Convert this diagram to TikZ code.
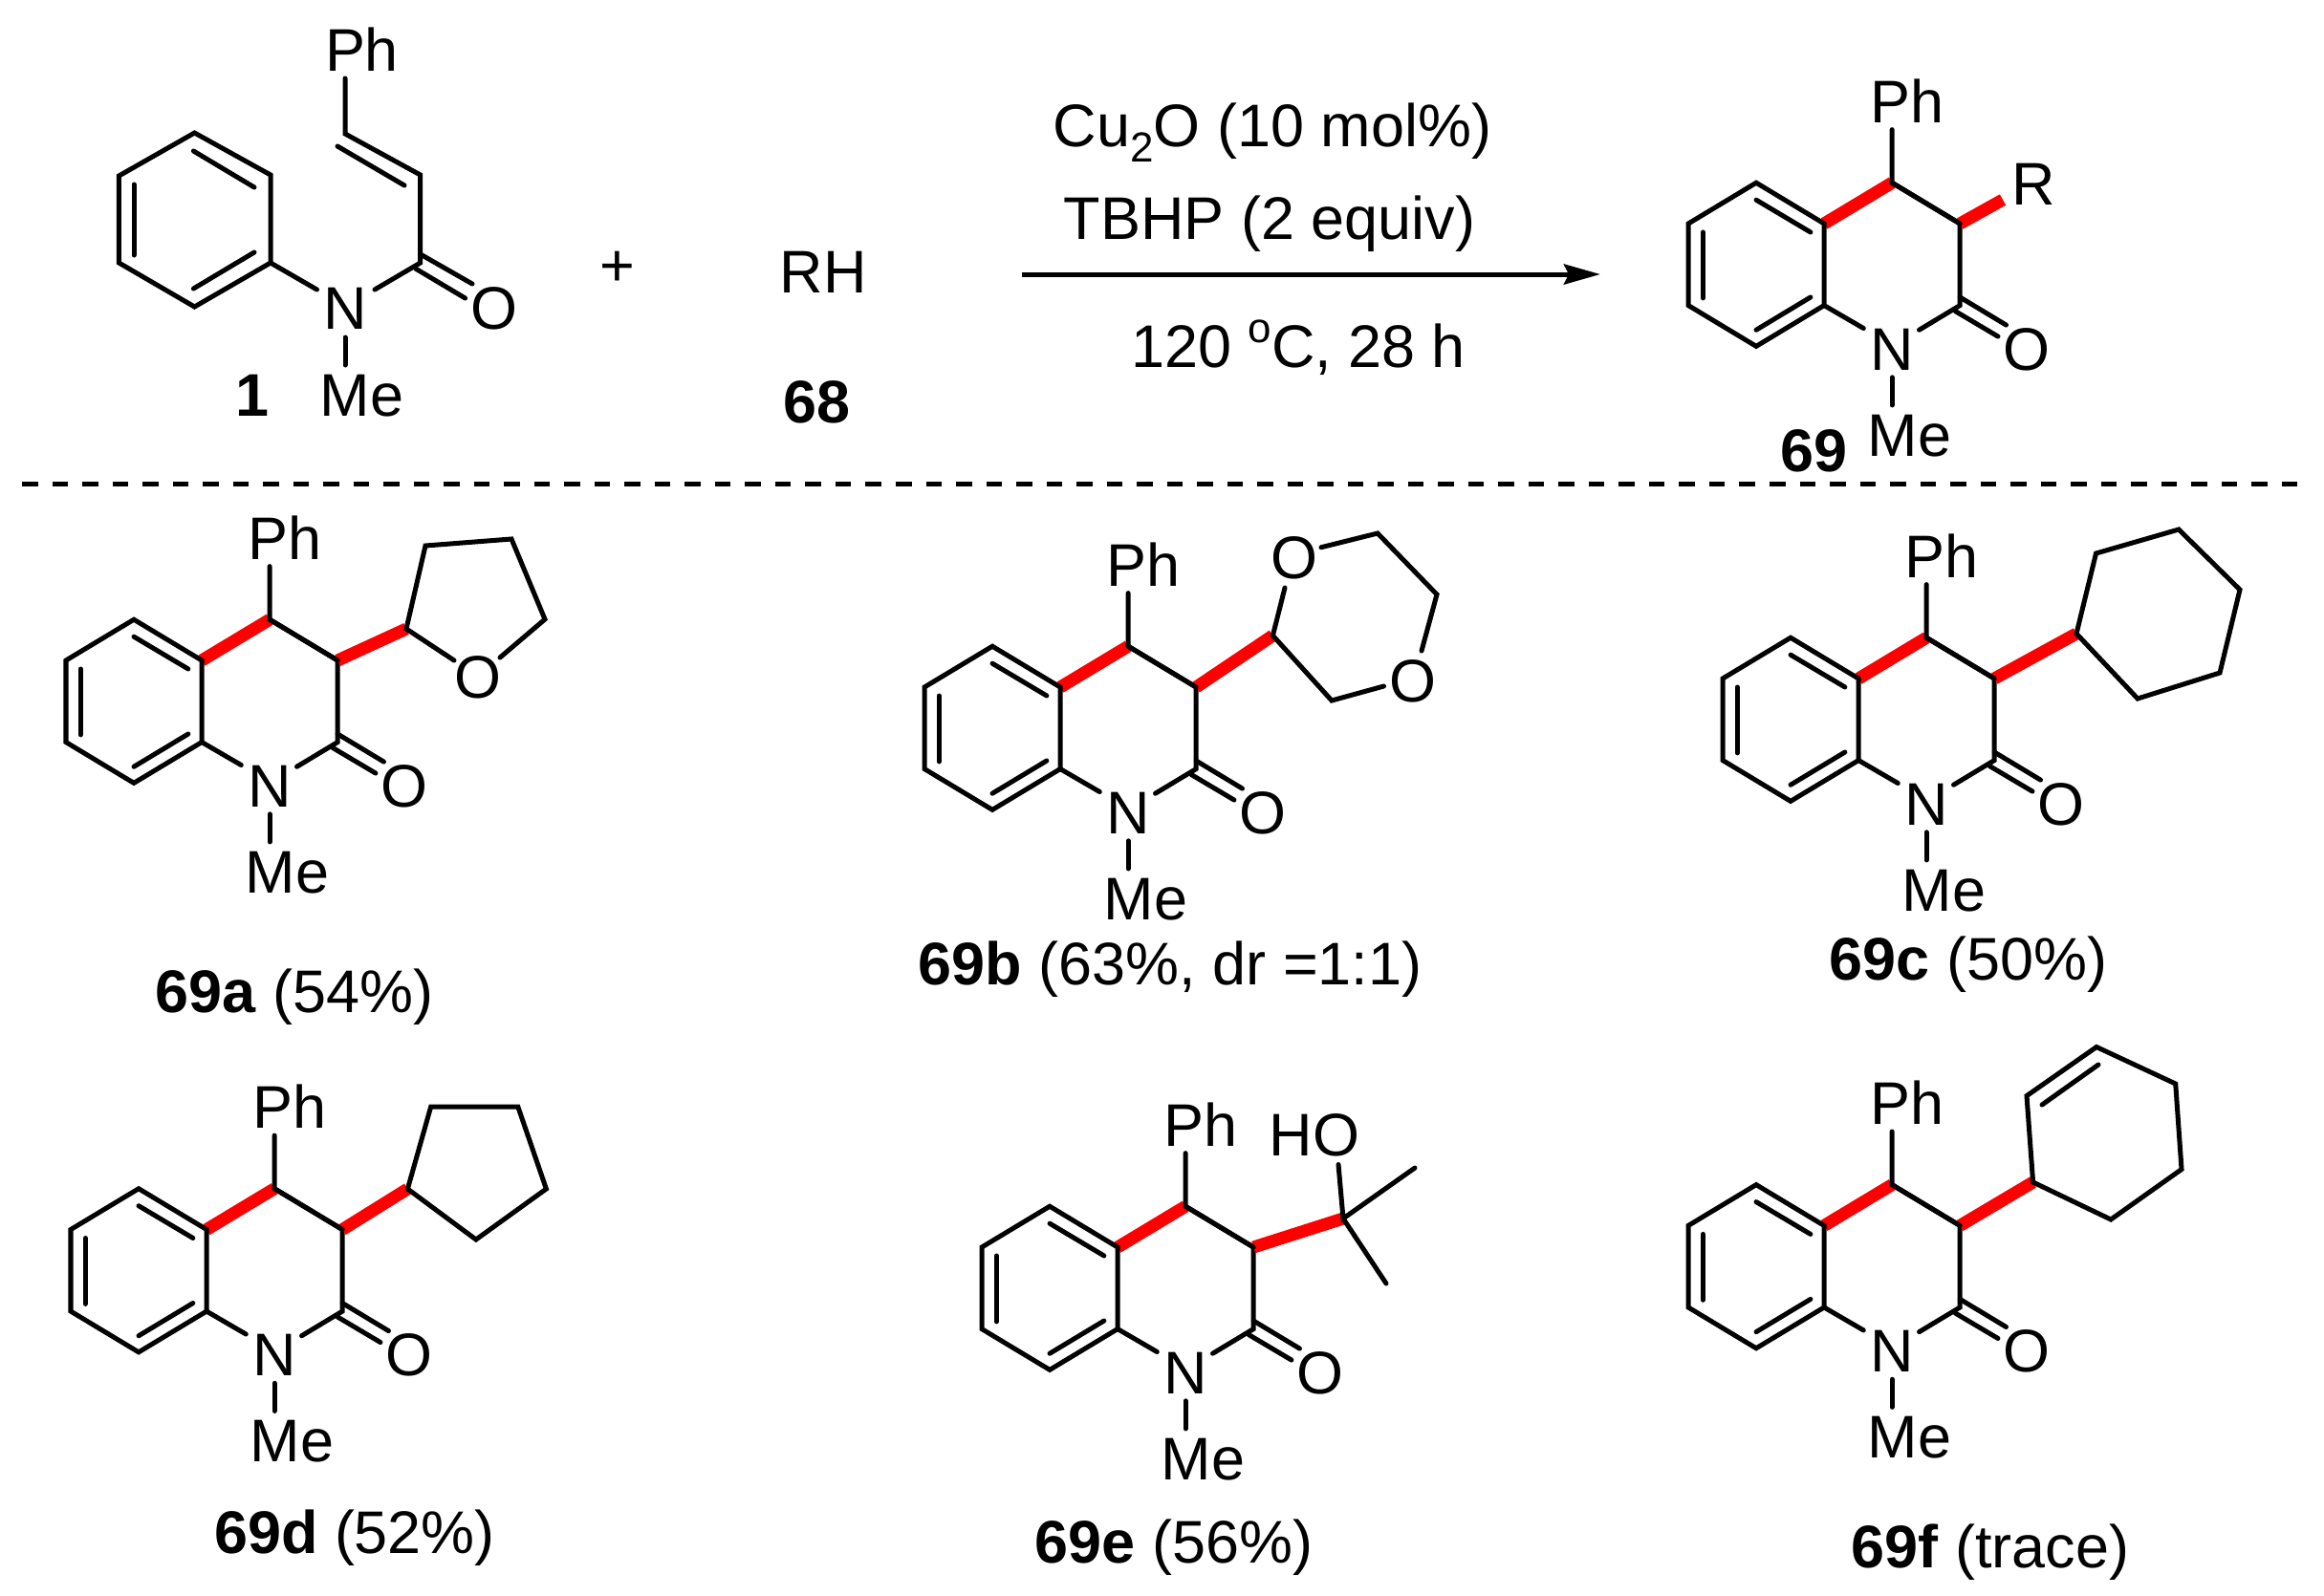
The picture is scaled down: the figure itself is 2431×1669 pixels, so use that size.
\documentclass[tikz,border=0pt]{standalone}
\usepackage{fontspec}
\setmainfont{Liberation Sans}
\usetikzlibrary{arrows.meta}
\tikzset{
  txt/.style={inner sep=0pt,outer sep=0pt,text height=12.8pt,text depth=0pt,anchor=center,font=\fontsize{17.9pt}{20pt}\selectfont},
  bond/.style={line width=0.05cm,line cap=round,line join=miter,black},
  redbond/.style={line width=0.13cm,line cap=butt,red},
  arrowline/.style={line width=0.05cm,-{Stealth[length=0.38cm,width=0.21cm,inset=0.05cm]}},
  dashline/.style={line width=0.05cm,dash pattern=on 0.165cm off 0.15cm}
}
\newcommand{\lowtwo}{\raisebox{-0.26em}{\fontsize{12.5pt}{13pt}\selectfont 2}}
\newcommand{\hio}{\raisebox{0.42em}{\fontsize{12.5pt}{13pt}\selectfont o}}
% quinolinone core: prefix, left x, y of upper-left atom
\newcommand{\quin}[3]{%
\begin{scope}[shift={(#2,#3)},x=1.42cm,y=-0.855cm]
  \coordinate (#1ul) at (0,0);
  \coordinate (#1ll) at (0,1);
  \coordinate (#1bo) at (0.5,1.5);
  \coordinate (#1lr) at (1,1);
  \coordinate (#1ur) at (1,0);
  \coordinate (#1to) at (0.5,-0.5);
  \coordinate (#1cf) at (1.5,-0.5);
  \coordinate (#1ct) at (2,0);
  \coordinate (#1cb) at (2,1);
  \coordinate (#1pe) at (1.5,-1.15);
  \coordinate (#1na) at (1.29,1.28);
  \coordinate (#1nb) at (1.70,1.30);
  \coordinate (#1nc) at (1.5,1.88);
  \coordinate (#1nd) at (1.5,2.22);
  \coordinate (#1ia) at (0.108,0.105);
  \coordinate (#1ib) at (0.108,0.91);
  \coordinate (#1ic) at (0.5,-0.29);
  \coordinate (#1id) at (0.9,0.105);
  \coordinate (#1ie) at (0.9,0.9);
  \coordinate (#1if) at (0.5,1.3);
  \coordinate (#1oa) at (2,0.9);
  \coordinate (#1ob) at (2.34,1.24);
  \coordinate (#1oc) at (1.965,1.07);
  \coordinate (#1od) at (2.28,1.38);
  \node[txt] (#1Ph) at (1.61,-1.5) {Ph};
  \node[txt] (#1N) at (1.5,1.53) {N};
  \node[txt] (#1O) at (2.49,1.53) {O};
  \node[txt] (#1Me) at (1.63,2.58) {Me};
  \draw[redbond] (#1ur) -- (#1cf);
  \draw[bond] (#1ul) -- (#1to) -- (#1ur) -- (#1lr) -- (#1bo) -- (#1ll) -- cycle;
  \draw[bond] (#1ia) -- (#1ib);
  \draw[bond] (#1ic) -- (#1id);
  \draw[bond] (#1ie) -- (#1if);
  \draw[bond] (#1pe) -- (#1cf) -- (#1ct) -- (#1cb) -- (#1nb);
  \draw[bond] (#1lr) -- (#1na);
  \draw[bond] (#1nc) -- (#1nd);
  \draw[bond] (#1oa) -- (#1ob);
  \draw[bond] (#1oc) -- (#1od);
\end{scope}}
\begin{document}
\begin{tikzpicture}[x=0.01cm,y=-0.01cm]
\useasboundingbox (0,0) rectangle (2431,1669);
\fill[white] (0,0) rectangle (2431,1669);

% --- reactant 1
\coordinate (ua) at (124.4,184);
\coordinate (ub) at (203.5,139);
\coordinate (uc) at (283,183);
\coordinate (ud) at (283,275);
\coordinate (ue) at (203.5,321);
\coordinate (uf) at (124.4,275);
\coordinate (uia) at (140,193);
\coordinate (uib) at (140,267);
\coordinate (uic) at (202.4,158);
\coordinate (uid) at (266,196);
\coordinate (uie) at (266,264);
\coordinate (uif) at (202.4,302);
\coordinate (uva) at (361,82);
\coordinate (uvb) at (361,140);
\coordinate (uvc) at (439.7,183);
\coordinate (uvd) at (353,153);
\coordinate (uve) at (423,194);
\coordinate (ucc) at (439.7,275);
\coordinate (una) at (331.5,303);
\coordinate (unb) at (392,303);
\coordinate (unc) at (361,353);
\coordinate (und) at (361,382);
\coordinate (uoa) at (439.7,266);
\coordinate (uob) at (494,297);
\coordinate (uoc) at (434.6,281);
\coordinate (uod) at (486.6,312);
\node[txt] (uPh) at (378.5,52) {Ph};
\node[txt] (uN) at (361,322) {N};
\node[txt] (uO) at (517,322) {O};
\node[txt] (uMe) at (378.5,413) {Me};
\node[txt] (lone) at (263.7,413) {\textbf{1}};
\draw[bond] (ua) -- (ub) -- (uc) -- (ud) -- (ue) -- (uf) -- cycle;
\draw[bond] (uia) -- (uib);
\draw[bond] (uic) -- (uid);
\draw[bond] (uie) -- (uif);
\draw[bond] (uva) -- (uvb) -- (uvc) -- (ucc) -- (unb);
\draw[bond] (uvd) -- (uve);
\draw[bond] (ud) -- (una);
\draw[bond] (unc) -- (und);
\draw[bond] (uoa) -- (uob);
\draw[bond] (uoc) -- (uod);

\node[txt] (plus) at (646,277) {+};
\node[txt] (rh) at (861,284) {RH};
\node[txt] (lsix) at (854,420) {\textbf{68}};

% --- reaction arrow
\coordinate (arra) at (1068.6,287);
\coordinate (arrb) at (1674,287);
\draw[arrowline] (arra) -- (arrb);
\node[txt] (cond1) at (1331,131) {Cu\lowtwo O (10 mol\%)};
\node[txt] (cond2) at (1328,228) {TBHP (2 equiv)};
\node[txt] (cond3) at (1358,362) {120 \hio C, 28 h};

% --- product 69
\quin{p}{1766}{234}
\coordinate (pR) at (2095,209);
\draw[redbond] (pct) -- (pR);
\draw[bond] (pcf) -- (pct);
\node[txt] (pRl) at (2127.5,192) {R};
\node[txt] (plab) at (1897.5,471) {\textbf{69}};

% --- divider
\coordinate (dva) at (23,506);
\coordinate (dvb) at (2408,506);
\draw[dashline] (dva) -- (dvb);

% --- 69a
\quin{a}{69}{691}
\coordinate (asa) at (425,658);
\coordinate (asb) at (445,571);
\coordinate (asc) at (535,564);
\coordinate (asd) at (570,648);
\coordinate (ase) at (523,688);
\coordinate (asf) at (475,691);
\draw[redbond] (act) -- (asa);
\draw[bond] (acf) -- (act);
\draw[bond] (ase) -- (asd) -- (asc) -- (asb) -- (asa) -- (asf);
\node[txt] (asO) at (500,708) {O};
\node[txt] (alab) at (308,1037) {\textbf{69a} (54\%)};

% --- 69b
\quin{b}{967}{719}
\coordinate (bsa) at (1331.4,665);
\coordinate (bsb) at (1344,615);
\coordinate (bsc) at (1382,572.7);
\coordinate (bsd) at (1441,558);
\coordinate (bse) at (1503,622);
\coordinate (bsf) at (1487,681);
\coordinate (bsg) at (1447.5,718);
\coordinate (bsh) at (1393,733);
\draw[redbond] (bct) -- (bsa);
\draw[bond] (bcf) -- (bct);
\draw[bond] (bsb) -- (bsa) -- (bsh) -- (bsg);
\draw[bond] (bsc) -- (bsd) -- (bse) -- (bsf);
\node[txt] (bsO) at (1353.6,582.7) {O};
\node[txt] (bsP) at (1478,712) {O};
\node[txt] (blab) at (1224,1008) {\textbf{69b} (63\%, dr =1:1)};

% --- 69c
\quin{c}{1802}{710}
\coordinate (csa) at (2172,663);
\coordinate (csb) at (2192.5,579);
\coordinate (csc) at (2279,554);
\coordinate (csd) at (2343,617);
\coordinate (cse) at (2322,704);
\coordinate (csf) at (2236,731);
\draw[redbond] (cct) -- (csa);
\draw[bond] (ccf) -- (cct);
\draw[bond] (csa) -- (csb) -- (csc) -- (csd) -- (cse) -- (csf) -- cycle;
\node[txt] (clab) at (2059,1003) {\textbf{69c} (50\%)};

% --- 69d
\quin{d}{74}{1286.5}
\coordinate (dsa) at (426.4,1244);
\coordinate (dsb) at (450.7,1158);
\coordinate (dsc) at (541.8,1158);
\coordinate (dsd) at (571.4,1244);
\coordinate (dse) at (497.9,1297);
\draw[redbond] (dct) -- (dsa);
\draw[bond] (dcf) -- (dct);
\draw[bond] (dsa) -- (dsb) -- (dsc) -- (dsd) -- (dse) -- cycle;
\node[txt] (dlab) at (371,1603) {\textbf{69d} (52\%)};

% --- 69e
\quin{e}{1027}{1305}
\coordinate (esa) at (1405,1275);
\coordinate (esb) at (1400,1218.5);
\coordinate (esc) at (1480,1222);
\coordinate (esd) at (1450,1343);
\draw[redbond] (ect) -- (esa);
\draw[bond] (ecf) -- (ect);
\draw[bond] (esb) -- (esa) -- (esc);
\draw[bond] (esa) -- (esd);
\node[txt] (esO) at (1375,1187.4) {HO};
\node[txt] (elab) at (1228,1613) {\textbf{69e} (56\%)};

% --- 69f
\quin{f}{1766}{1282.4}
\coordinate (fsa) at (2126.6,1237);
\coordinate (fsb) at (2120,1146.6);
\coordinate (fsc) at (2193,1095.5);
\coordinate (fsd) at (2275.7,1134);
\coordinate (fse) at (2282,1223.5);
\coordinate (fsf) at (2208,1276);
\coordinate (fsg) at (2136,1156);
\coordinate (fsh) at (2195,1114);
\draw[redbond] (fct) -- (fsa);
\draw[bond] (fcf) -- (fct);
\draw[bond] (fsa) -- (fsb) -- (fsc) -- (fsd) -- (fse) -- (fsf) -- cycle;
\draw[bond] (fsg) -- (fsh);
\node[txt] (flab) at (2082,1618) {\textbf{69f} (trace)};
\end{tikzpicture}
\end{document}
